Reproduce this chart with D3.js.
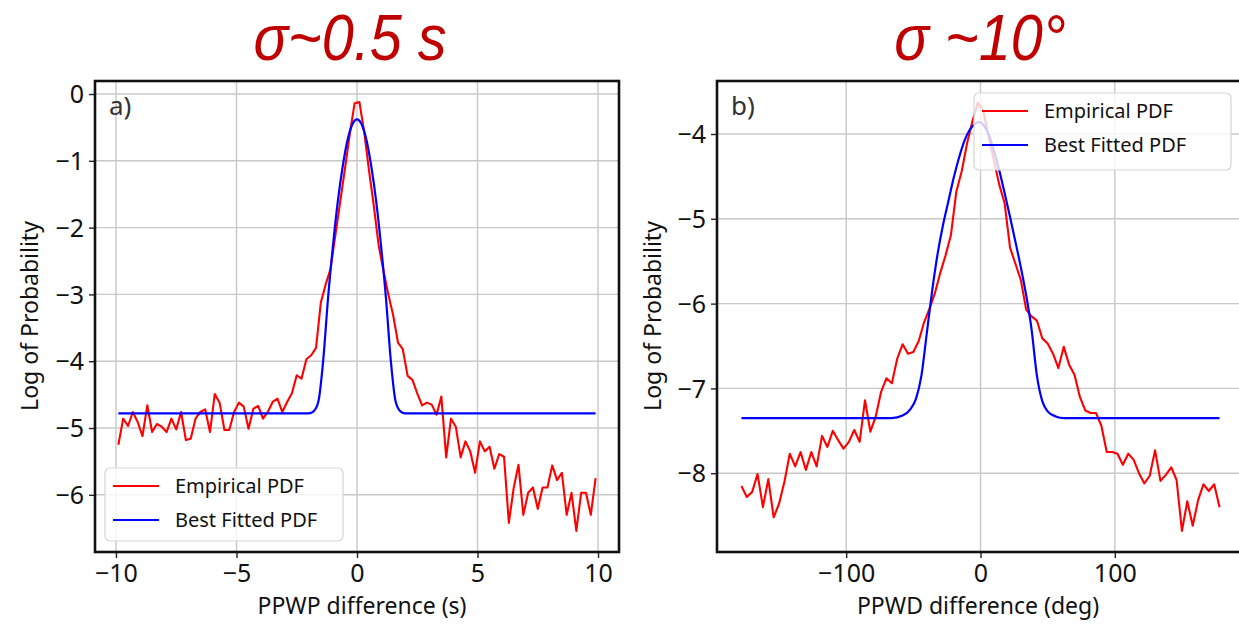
<!DOCTYPE html>
<html>
<head>
<meta charset="utf-8">
<script src="https://cdn.jsdelivr.net/npm/d3@7"></script>
<style>
  body { margin: 0; background: #fff; }
  svg text { font-family: "Noto Sans", "DejaVu Sans", sans-serif; }
</style>
</head>
<body>
<div id="chart"></div>
<script>
// ---- data ----
// panel a) bins of 0.2 s, centers -9.9 .. 9.9
var aEmpX = d3.range(100).map(function (i) { return -9.9 + 0.2 * i; });
var aEmpY = [
  -5.25, -4.86, -4.97, -4.76, -4.91, -5.12, -4.66, -5.06, -4.94, -4.98,
  -5.06, -4.86, -5.02, -4.76, -5.18, -5.16, -4.86, -4.76, -4.72, -5.06,
  -4.49, -4.62, -5.03, -5.03, -4.76, -4.62, -4.68, -5.01, -4.71, -4.67,
  -4.86, -4.76, -4.61, -4.56, -4.76, -4.61, -4.48, -4.21, -4.26, -3.97,
  -3.91, -3.80, -3.12, -2.85, -2.62, -2.12, -1.62, -1.12, -0.60, -0.14,
  -0.12, -0.57, -1.15, -1.68, -2.27, -2.65, -3.00, -3.31, -3.72, -3.82,
  -4.22, -4.28, -4.48, -4.66, -4.62, -4.65, -4.80, -4.53, -5.44, -4.86,
  -4.98, -5.44, -5.20, -5.35, -5.67, -5.20, -5.35, -5.28, -5.61, -5.39,
  -5.43, -6.42, -5.90, -5.55, -6.30, -5.97, -5.89, -6.21, -5.89, -5.89,
  -5.56, -5.78, -5.67, -6.30, -5.97, -6.54, -5.97, -5.97, -6.30, -5.75
];
var aFitX = [-9.9, -2.2, -2.0, -1.8, -1.6, -1.4, -1.2, -1.0, -0.8, -0.6, -0.4, -0.2, 0,
  0.2, 0.4, 0.6, 0.8, 1.0, 1.2, 1.4, 1.6, 1.8, 2.0, 2.2, 9.9];
var aFitY = [-4.78, -4.78, -4.78, -4.75, -4.60, -3.98, -3.05, -2.28, -1.62, -1.10, -0.70, -0.46, -0.38,
  -0.46, -0.70, -1.10, -1.62, -2.28, -3.05, -3.98, -4.60, -4.75, -4.78, -4.78, -4.78];

// panel b) bins of 4 deg, centers -178 .. 178
var bEmpX = d3.range(90).map(function (i) { return -178 + 4 * i; });
var bEmpY = [
  -8.15, -8.28, -8.22, -8.01, -8.40, -8.07, -8.52, -8.36, -8.10, -7.77,
  -7.92, -7.75, -7.96, -7.75, -7.92, -7.56, -7.69, -7.50, -7.61, -7.71,
  -7.63, -7.49, -7.63, -7.14, -7.51, -7.33, -7.04, -6.88, -6.94, -6.65,
  -6.48, -6.59, -6.57, -6.44, -6.22, -6.06, -5.88, -5.64, -5.43, -5.19,
  -4.68, -4.44, -4.11, -3.85, -3.63, -3.72, -4.03, -4.31, -4.60, -4.82,
  -5.34, -5.53, -5.72, -6.07, -6.15, -6.20, -6.41, -6.47, -6.59, -6.76,
  -6.51, -6.72, -6.84, -7.10, -7.26, -7.29, -7.29, -7.44, -7.75, -7.75,
  -7.77, -7.90, -7.77, -7.84, -8.00, -8.12, -8.03, -7.73, -8.09, -8.02,
  -7.93, -8.08, -8.68, -8.33, -8.62, -8.32, -8.13, -8.21, -8.13, -8.40
];
var bFitX = [-178, -66, -58, -52, -48, -44, -40, -36, -32, -28, -24, -20, -16, -12, -8, -4, -1,
  2, 6, 10, 14, 18, 22, 26, 30, 34, 38, 42, 46, 50, 56, 62, 178];
var bFitY = [-7.35, -7.35, -7.32, -7.24, -7.12, -6.85, -6.35, -5.85, -5.42, -5.08, -4.80, -4.52, -4.28, -4.08, -3.95, -3.88, -3.86,
  -3.89, -4.00, -4.20, -4.43, -4.70, -4.98, -5.27, -5.57, -5.90, -6.30, -6.85, -7.15, -7.27, -7.33, -7.35, -7.35];

var aTicksX = [-10, -5, 0, 5, 10];
var aTicksY = [0, -1, -2, -3, -4, -5, -6];
var bTicksX = [-100, 0, 100];
var bTicksY = [-4, -5, -6, -7, -8];

var titles = ["σ~0.5 s", "σ ~10°"];
var xLabels = ["PPWP difference (s)", "PPWD difference (deg)"];
var yLabel = "Log of Probability";
var panelTags = ["a)", "b)"];
var legendNames = ["Empirical PDF", "Best Fitted PDF"];

// ---- drawing ----
var W = 1239, H = 626;
var svg = d3.select("#chart").append("svg")
  .attr("width", W)
  .attr("height", H);

var minus = function (v) { return String(v).replace("-", "\u2212"); };

function drawPanel(p) {
  var x = d3.scaleLinear().domain(p.xDomain).range([p.left, p.right]);
  var y = d3.scaleLinear().domain(p.yDomain).range([p.bottom, p.top]);
  var g = svg.append("g");

  var clipId = "clip" + p.id;
  g.append("clipPath").attr("id", clipId)
    .append("rect")
    .attr("x", p.left).attr("y", p.top)
    .attr("width", p.right - p.left).attr("height", p.bottom - p.top);

  // grid
  g.selectAll(".gx").data(p.ticksX).enter().append("line")
    .attr("x1", function (d) { return x(d); })
    .attr("x2", function (d) { return x(d); })
    .attr("y1", p.top).attr("y2", p.bottom)
    .attr("stroke", "#c8c8c8").attr("stroke-width", 1.4);
  g.selectAll(".gy").data(p.ticksY).enter().append("line")
    .attr("y1", function (d) { return y(d); })
    .attr("y2", function (d) { return y(d); })
    .attr("x1", p.left).attr("x2", p.right)
    .attr("stroke", "#c8c8c8").attr("stroke-width", 1.4);

  // axes
  var xAxis = d3.axisBottom(x).tickValues(p.ticksX).tickSize(6).tickPadding(6).tickFormat(minus);
  var yAxis = d3.axisLeft(y).tickValues(p.ticksY).tickSize(6).tickPadding(5).tickFormat(minus);
  g.append("g").attr("transform", "translate(0," + p.bottom + ")").call(xAxis)
    .call(function (s) {
      s.select(".domain").remove();
      s.selectAll("line").attr("stroke", "#222").attr("stroke-width", 1.4);
      s.selectAll("text").attr("font-size", 25).attr("fill", "#111")
        .style("font-family", "'Noto Sans', sans-serif");
    });
  g.append("g").attr("transform", "translate(" + p.left + ",0)").call(yAxis)
    .call(function (s) {
      s.select(".domain").remove();
      s.selectAll("line").attr("stroke", "#222").attr("stroke-width", 1.4);
      s.selectAll("text").attr("font-size", 25).attr("fill", "#111").attr("dy", "0.35em")
        .style("font-family", "'Noto Sans', sans-serif");
    });

  // lines
  var line = d3.line()
    .x(function (d) { return x(d[0]); })
    .y(function (d) { return y(d[1]); });
  var emp = d3.zip(p.empX, p.empY);
  var fit = d3.zip(p.fitX, p.fitY);
  var plot = g.append("g").attr("clip-path", "url(#" + clipId + ")");
  plot.append("path").datum(emp)
    .attr("d", line).attr("fill", "none")
    .attr("stroke", "#ff0000").attr("stroke-width", 2.1).attr("stroke-linejoin", "round");
  plot.append("path").datum(fit)
    .attr("d", line.curve(d3.curveMonotoneX)).attr("fill", "none")
    .attr("stroke", "#0000ff").attr("stroke-width", 2.2);

  // frame
  g.append("rect")
    .attr("x", p.left).attr("y", p.top)
    .attr("width", p.right - p.left).attr("height", p.bottom - p.top)
    .attr("fill", "none").attr("stroke", "#111").attr("stroke-width", 2.6);

  // tag
  g.append("text").attr("x", p.left + 14).attr("y", p.top + 34)
    .attr("font-size", 26).attr("fill", "#333").text(p.tag);

  // legend
  var lg = g.append("g").attr("transform", "translate(" + p.legend[0] + "," + p.legend[1] + ")");
  lg.append("rect").attr("width", p.legend[2]).attr("height", p.legend[3])
    .attr("rx", 5).attr("fill", "#fff").attr("fill-opacity", 0.8)
    .attr("stroke", "#d6d6d6").attr("stroke-width", 1.2);
  var colors = ["#ff0000", "#0000ff"];
  legendNames.forEach(function (name, i) {
    var yy = 18 + i * 34;
    lg.append("line").attr("x1", 8).attr("x2", 54).attr("y1", yy).attr("y2", yy)
      .attr("stroke", colors[i]).attr("stroke-width", 2.1);
    lg.append("text").attr("x", 70).attr("y", yy).attr("dy", "0.35em")
      .attr("font-size", 20).attr("fill", "#111").text(name);
  });

  // labels
  svg.append("text").attr("x", (p.left + Math.min(p.right, W)) / 2 + p.xLabelShift).attr("y", 614)
    .attr("text-anchor", "middle").attr("font-size", 23).attr("fill", "#111").text(p.xLabel);
  svg.append("text")
    .attr("transform", "translate(" + p.yLabelX + ",316) rotate(-90)")
    .attr("text-anchor", "middle").attr("font-size", 23).attr("fill", "#111").text(yLabel);
  // condensed italic title
  svg.append("text")
    .attr("transform", "translate(" + p.titleX + ",60) scale(0.9,1)")
    .attr("text-anchor", "middle").attr("font-size", 64).attr("font-style", "italic")
    .attr("fill", "#c00000")
    .style("font-family", "'Liberation Sans Narrow', 'Liberation Sans', sans-serif")
    .text(p.title);
}

drawPanel({
  id: "a", left: 95, right: 619, top: 81, bottom: 552,
  xDomain: [-10.87, 10.87], yDomain: [-6.856, 0.195],
  ticksX: aTicksX, ticksY: aTicksY,
  empX: aEmpX, empY: aEmpY, fitX: aFitX, fitY: aFitY,
  tag: panelTags[0], legend: [105, 468, 238, 73],
  xLabel: xLabels[0], xLabelShift: 5, yLabelX: 38, title: titles[0], titleX: 350
});
drawPanel({
  id: "b", left: 717, right: 1244, top: 81, bottom: 552,
  xDomain: [-196.2, 196.2], yDomain: [-8.929, -3.375],
  ticksX: bTicksX, ticksY: bTicksY,
  empX: bEmpX, empY: bEmpY, fitX: bFitX, fitY: bFitY,
  tag: panelTags[1], legend: [974, 93, 257, 77],
  xLabel: xLabels[1], xLabelShift: 0, yLabelX: 661, title: titles[1], titleX: 980
});
</script>
</body>
</html>
